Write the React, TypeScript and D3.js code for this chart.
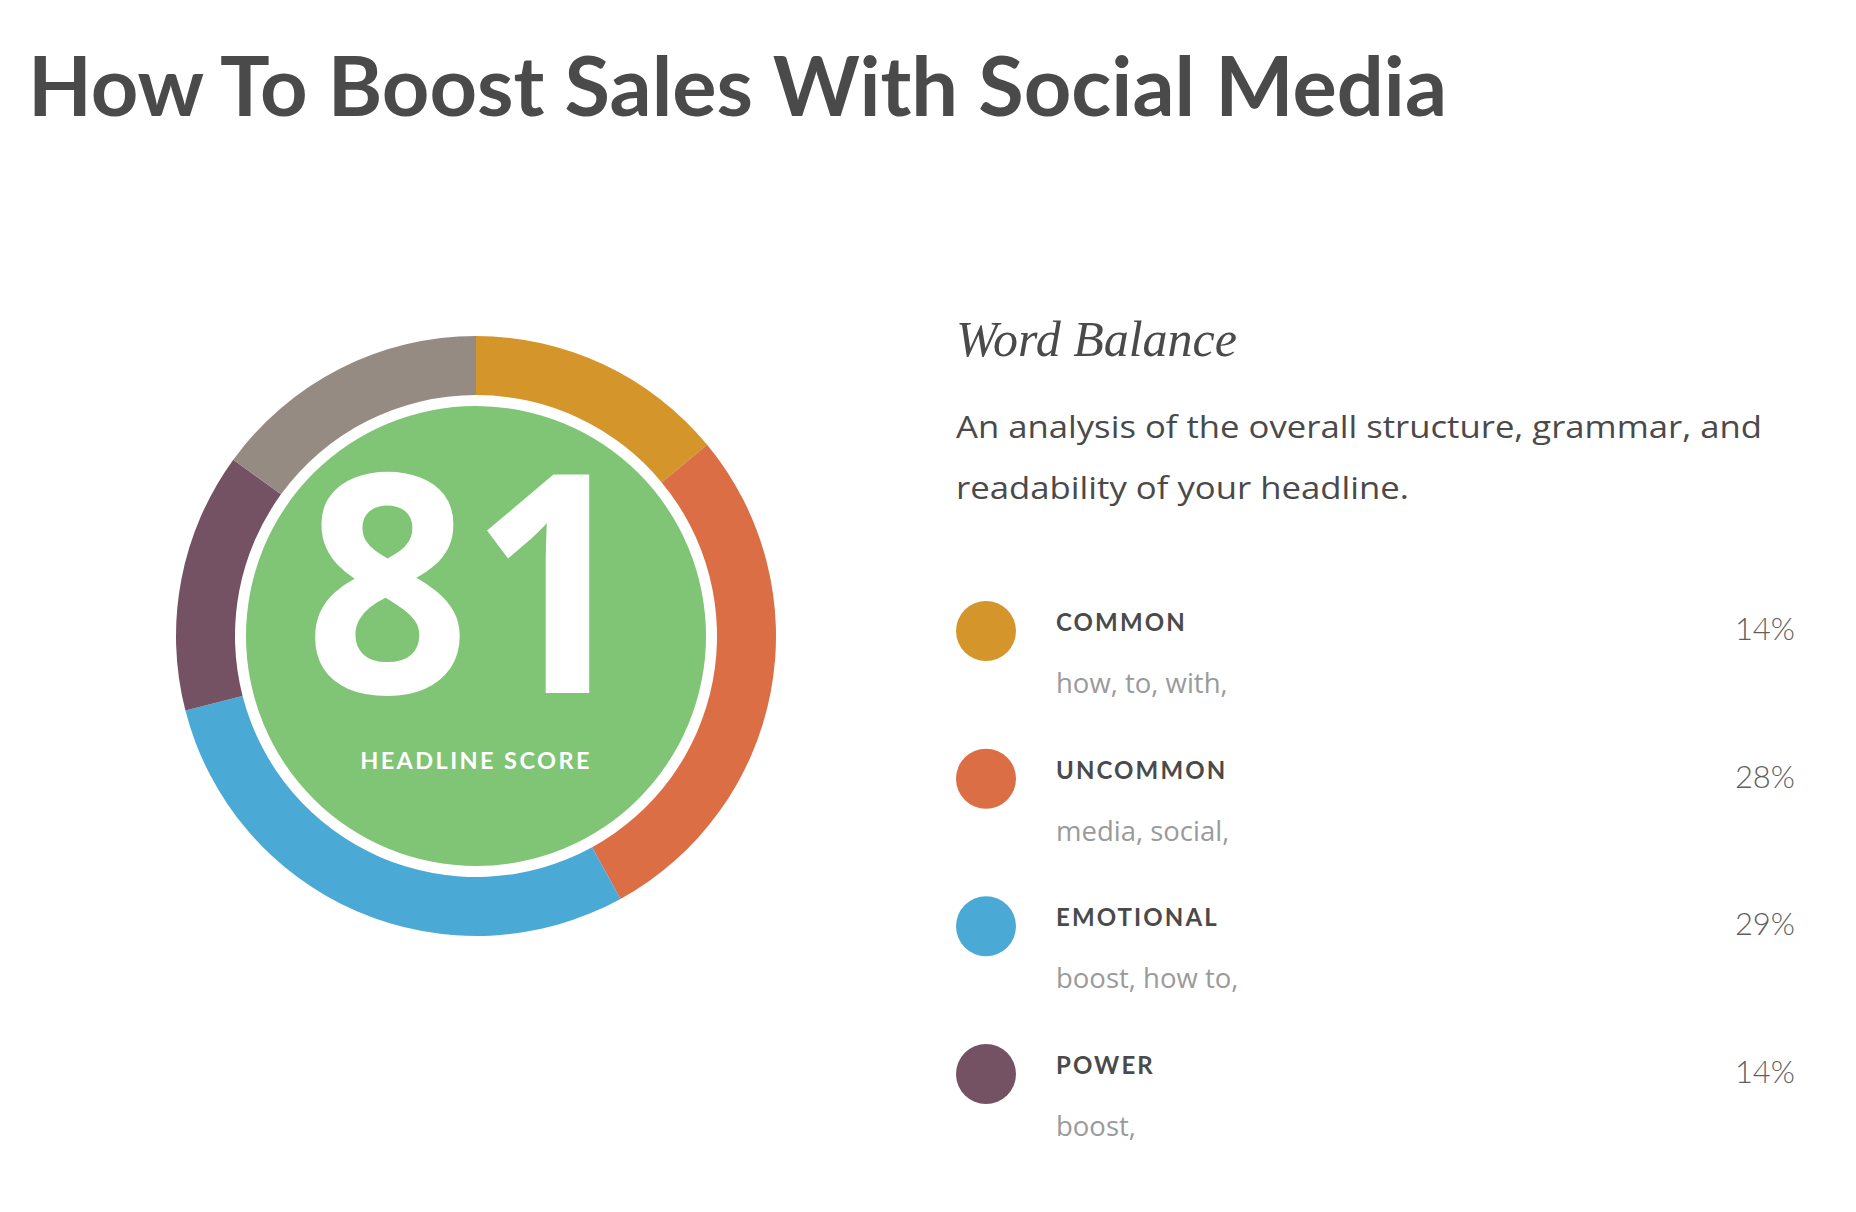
import React from "react";
import * as d3 from "d3";

const title = "How To Boost Sales With Social Media";
const score = 81;
const scoreLabel = "HEADLINE SCORE";
const sectionTitle = "Word Balance";
const descriptionLines = [
  "An analysis of the overall structure, grammar, and",
  "readability of your headline.",
];
const descriptionWidths = [806, 453];

const categories = ["COMMON", "UNCOMMON", "EMOTIONAL", "POWER"];
const percents = [14, 28, 29, 14];
const wordLists = ["how, to, with,", "media, social,", "boost, how to,", "boost,"];
const categoryColors = ["#D4962A", "#DC6E45", "#4BA9D6", "#745264"];
const neutralShare = 15;
const neutralColor = "#968B82";

const W = 1856;
const H = 1212;

export default function App() {
  const cx = 476;
  const cy = 636;
  const outerR = 300;
  const innerR = 241;
  const coreR = 230;

  const ringValues = [...percents, neutralShare];
  const ringColors = [...categoryColors, neutralColor];
  const pie = d3
    .pie<number>()
    .sort(null)
    .value((d) => d)
    .startAngle(0)
    .endAngle(2 * Math.PI);
  const arcs = pie(ringValues);
  const arcGen = d3.arc<d3.PieArcDatum<number>>().innerRadius(innerR).outerRadius(outerR);

  const rowY = d3
    .scaleLinear()
    .domain([0, categories.length - 1])
    .range([631, 1074]);

  const sans = "Lato, 'Open Sans', sans-serif";
  const body = "'Open Sans', Lato, sans-serif";

  return (
    <div style={{ position: "absolute", left: 0, top: 0 }}>
      <svg width={W} height={H} viewBox={`0 0 ${W} ${H}`} style={{ display: "block", background: "#fff" }}>
        <text
          x={28}
          y={116}
          fontFamily={sans}
          fontWeight={700}
          fontSize={82}
          fill="#4a4a4a"
          textLength={1419}
          lengthAdjust="spacingAndGlyphs"
        >
          {title}
        </text>

        <g transform={`translate(${cx},${cy})`}>
          {arcs.map((a, i) => (
            <path key={i} d={arcGen(a) || ""} fill={ringColors[i]} />
          ))}
          <circle r={coreR} fill="#80C475" />
          <text
            x={-6}
            y={57}
            textAnchor="middle"
            fontFamily={body}
            fontWeight={700}
            fontSize={306}
            fill="#fff"
            textLength={330}
            lengthAdjust="spacingAndGlyphs"
          >
            {score}
          </text>
          <text
            x={0}
            y={133}
            textAnchor="middle"
            fontFamily={sans}
            fontWeight={700}
            fontSize={23.5}
            letterSpacing={2.4}
            fill="#fff"
          >
            {scoreLabel}
          </text>
        </g>

        <text x={956} y={356} fontFamily="'Liberation Serif', serif" fontStyle="italic" fontSize={50} fill="#4a4a4a">
          {sectionTitle}
        </text>
        {descriptionLines.map((line, i) => (
          <text
            key={i}
            x={956}
            y={438 + i * 61}
            fontFamily={body}
            fontSize={31}
            fill="#4a4a4a"
            textLength={descriptionWidths[i]}
            lengthAdjust="spacingAndGlyphs"
          >
            {line}
          </text>
        ))}

        {categories.map((c, i) => {
          const y = rowY(i);
          return (
            <g key={c}>
              <circle cx={986} cy={y} r={30} fill={categoryColors[i]} />
              <text
                x={1056}
                y={y}
                fontFamily={sans}
                fontWeight={700}
                fontSize={24}
                letterSpacing={2.1}
                fill="#4a4a4a"
              >
                {c}
              </text>
              <text x={1056} y={y + 62} fontFamily={body} fontSize={27.5} fill="#9a9a9a">
                {wordLists[i]}
              </text>
              <text
                x={1795}
                y={y + 9}
                textAnchor="end"
                fontFamily={sans}
                fontWeight={300}
                fontSize={31}
                fill="#5f5f5f"
              >
                {`${percents[i]}%`}
              </text>
            </g>
          );
        })}
      </svg>
    </div>
  );
}
